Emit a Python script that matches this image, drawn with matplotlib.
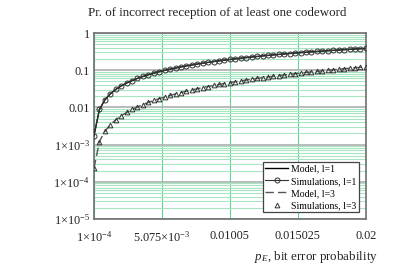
import matplotlib
matplotlib.use("Agg")
import matplotlib.pyplot as plt
from matplotlib.ticker import LogLocator, NullFormatter, FixedLocator

# --- Style ---
plt.rcParams['font.family'] = ['Liberation Serif', 'DejaVu Serif']
plt.rcParams['mathtext.fontset'] = 'custom'
plt.rcParams['mathtext.rm'] = 'Liberation Serif'
plt.rcParams['mathtext.it'] = 'Liberation Serif:italic'

MAJOR_GRID = '#b4b4b4'
MINOR_GRID = '#a6e6c0'
VERT_GRID = '#5cd690'
FRAME = '#707070'

# --- Data ---
p_E = [0.0001, 0.000498, 0.000896, 0.001294, 0.001692, 0.00209, 0.002488, 0.002886,
       0.003284, 0.003682, 0.00408, 0.004478, 0.004876, 0.005274, 0.005672, 0.00607,
       0.006468, 0.006866, 0.007264, 0.007662, 0.00806, 0.008458, 0.008856, 0.009254,
       0.009652, 0.01005, 0.010448, 0.010846, 0.011244, 0.011642, 0.01204, 0.012438,
       0.012836, 0.013234, 0.013632, 0.01403, 0.014428, 0.014826, 0.015224, 0.015622,
       0.01602, 0.016418, 0.016816, 0.017214, 0.017612, 0.01801, 0.018408, 0.018806,
       0.019204, 0.019602, 0.02]

pr_l1 = [0.00175, 0.00879, 0.0159, 0.0231, 0.0304, 0.0378, 0.0452, 0.0527,
         0.0603, 0.0680, 0.0756, 0.0834, 0.0911, 0.0990, 0.1068, 0.1147,
         0.1226, 0.1306, 0.1385, 0.1465, 0.1545, 0.1625, 0.1705, 0.1785,
         0.1865, 0.1945, 0.2025, 0.2105, 0.2185, 0.2264, 0.2344, 0.2423,
         0.2502, 0.2580, 0.2659, 0.2737, 0.2815, 0.2892, 0.2969, 0.3046,
         0.3121, 0.3197, 0.3272, 0.3346, 0.3420, 0.3494, 0.3567, 0.3640,
         0.3712, 0.3784, 0.3854]

pr_l3 = [0.000233, 0.00121, 0.00227, 0.00342, 0.00464, 0.00595, 0.00733, 0.00879,
         0.01032, 0.01193, 0.01361, 0.01536, 0.01718, 0.01907, 0.02102, 0.02304,
         0.02512, 0.02726, 0.02947, 0.03173, 0.03405, 0.03643, 0.03886, 0.04134,
         0.04388, 0.04646, 0.04910, 0.05178, 0.05450, 0.05727, 0.06008, 0.06294,
         0.06583, 0.06876, 0.07173, 0.07473, 0.07777, 0.08083, 0.08393, 0.08706,
         0.09022, 0.09341, 0.09662, 0.09986, 0.1031, 0.1064, 0.1097, 0.1130,
         0.1163, 0.1197, 0.1230]

x_ticks = [0.0001, 0.005075, 0.01005, 0.015025, 0.02]
x_tick_labels = [r'1$\times$10$^{-4}$', r'5.075$\times$10$^{-3}$', '0.01005', '0.015025', '0.02']
y_ticks = [1e-5, 1e-4, 1e-3, 1e-2, 1e-1, 1]
y_tick_labels = [r'1$\times$10$^{-5}$', r'1$\times$10$^{-4}$', r'1$\times$10$^{-3}$', '0.01', '0.1', '1']

# --- Figure ---
fig = plt.figure(figsize=(4.15, 2.73), dpi=100, facecolor='white')
ax = fig.add_axes([0.2265, 0.198, 0.655, 0.681])

ax.plot(p_E, pr_l1, color='black', linewidth=1.0, label='Model, l=1', zorder=3)
ax.plot(p_E, pr_l1, color='#333333', linewidth=0.8, marker='o', markersize=3.6,
        markerfacecolor='none', markeredgewidth=0.7, label='Simulations, l=1', zorder=4)
ax.plot(p_E, pr_l3, color='#555555', linewidth=1.0, dashes=(6, 3), label='Model, l=3', zorder=3)
ax.plot(p_E, pr_l3, color='#333333', linestyle='none', marker='^', markersize=3.4,
        markerfacecolor='none', markeredgewidth=0.7, label='Simulations, l=3', zorder=4)

ax.set_yscale('log')
ax.set_xlim(0.0001, 0.02)
ax.set_ylim(1e-5, 1)

ax.xaxis.set_major_locator(FixedLocator(x_ticks))
ax.set_xticklabels(x_tick_labels)
ax.yaxis.set_major_locator(FixedLocator(y_ticks))
ax.set_yticklabels(y_tick_labels)
ax.yaxis.set_minor_locator(LogLocator(base=10, subs=range(2, 10), numticks=20))
ax.yaxis.set_minor_formatter(NullFormatter())

ax.tick_params(which='both', length=0, labelsize=8.8, colors='#222222')
ax.tick_params(axis='y', pad=3)
ax.tick_params(axis='x', pad=8)

# Grid
ax.grid(axis='y', which='minor', color=MINOR_GRID, linewidth=0.8, zorder=0)
ax.grid(axis='y', which='major', color=MAJOR_GRID, linewidth=1.3, zorder=1)
ax.grid(axis='x', which='major', color=VERT_GRID, linewidth=0.8, zorder=1)
ax.set_axisbelow(True)

for s in ax.spines.values():
    s.set_color(FRAME)
    s.set_linewidth(1.2)

ax.set_title('Pr. of incorrect reception of at least one codeword',
             fontsize=9.4, color='#222222', pad=12, x=0.455)
fig.text(0.91, 0.028, r'$p_E$, bit error probability', fontsize=9.4,
         color='#222222', ha='right', va='bottom')

leg = ax.legend(loc='lower right', bbox_to_anchor=(0.975, 0.035), fontsize=7.0,
                frameon=True, fancybox=False, handlelength=2.4, handletextpad=0.3,
                borderpad=0.25, labelspacing=0.32, borderaxespad=0.0)
leg.get_frame().set_edgecolor('#444444')
leg.get_frame().set_linewidth(0.9)
leg.get_frame().set_alpha(1.0)

fig.savefig('out.png', dpi=100, facecolor='white')
